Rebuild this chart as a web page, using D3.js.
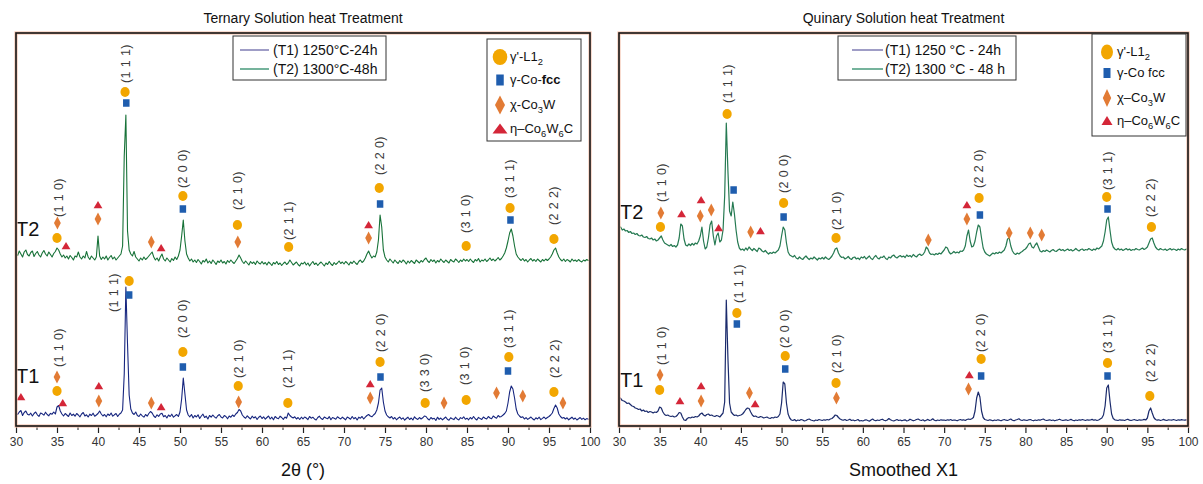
<!DOCTYPE html>
<html>
<head>
<meta charset="utf-8">
<script src="https://cdn.jsdelivr.net/npm/d3@7"></script>
<style>
  body { margin: 0; background: #fff; }
  svg text { font-family: "Liberation Sans", Arial, sans-serif; }
</style>
</head>
<body>
<svg id="fig" width="1203" height="484"></svg>
<script>
// XRD patterns sampled every 0.2 degrees of 2-theta, 30 to 100 (intensity in a.u.)
const twoThetaStart = 30;
const twoThetaStep = 0.2;

const ternaryT1 = [
  130,115,140,155,105,135,150,118,110,128,100,125,140,112,96,130,122,108,138,115,102,126,118,140,120,
  190,205,150,120,100,125,110,95,130,105,118,98,125,110,92,120,135,100,112,90,118,105,128,98,110,
  125,150,120,100,115,92,120,105,130,98,112,125,95,118,130,160,520,1390,820,310,170,130,115,140,105,
  95,120,102,88,115,98,125,145,130,100,85,112,96,120,128,92,105,80,110,95,118,88,102,115,95,
  140,270,480,320,160,110,92,115,80,105,90,112,75,100,118,85,98,70,105,88,110,92,78,102,115,
  90,80,105,95,72,100,88,110,95,120,135,165,150,110,90,78,102,85,70,98,80,92,65,88,100,
  75,92,68,85,100,70,88,62,95,80,72,98,85,66,90,78,130,105,90,80,92,70,85,65,88,
  72,90,80,64,95,78,88,70,60,85,98,75,66,90,80,72,94,62,85,78,68,92,80,70,88,
  75,62,90,80,68,95,72,85,60,88,78,95,70,88,105,115,100,92,110,125,160,230,360,380,240,
  150,110,92,80,95,70,85,62,78,90,68,82,58,75,88,65,80,60,92,74,66,85,70,82,100,
  95,72,60,85,70,78,55,88,66,80,62,75,90,68,58,82,72,64,88,70,60,84,74,92,68,
  78,62,85,70,95,72,60,86,74,66,90,78,70,95,80,72,100,88,78,105,90,96,110,125,150,
  230,340,400,370,280,170,120,100,85,92,70,84,66,78,90,72,60,82,70,88,64,76,90,72,85,
  95,110,130,175,210,180,120,95,78,85,70,82,62,75,88,68,80,60,72,85,66,78,62,74,68,
  72
];

const ternaryT2 = [
  1730,1705,1750,1720,1690,1740,1760,1715,1700,1735,1750,1695,1725,1745,1710,1690,1730,1755,1720,1700,1740,1715,1690,1725,1745,
  1780,1760,1720,1690,1710,1680,1700,1670,1705,1685,1660,1700,1690,1740,1690,1670,1700,1680,1745,1690,1665,1700,1680,1660,1690,
  1900,1700,1665,1690,1670,1700,1660,1685,1705,1670,1690,1660,1680,1700,1720,1800,2700,3110,1950,1760,1720,1700,1745,1690,1670,
  1650,1680,1660,1690,1665,1680,1700,1720,1740,1690,1660,1680,1650,1690,1720,1670,1650,1680,1660,1640,1675,1655,1690,1665,1700,
  1760,1900,2060,1850,1720,1680,1650,1670,1640,1660,1635,1665,1645,1620,1655,1640,1670,1630,1650,1625,1660,1640,1615,1650,1635,
  1660,1630,1645,1620,1655,1635,1660,1640,1625,1650,1675,1710,1680,1645,1625,1650,1630,1610,1645,1625,1640,1615,1650,1630,1620,
  1645,1620,1635,1610,1640,1625,1605,1635,1620,1645,1615,1630,1605,1625,1640,1615,1630,1660,1635,1610,1625,1640,1615,1600,1630,
  1620,1640,1610,1630,1600,1625,1645,1615,1630,1605,1625,1640,1620,1600,1630,1615,1645,1620,1605,1635,1615,1630,1650,1625,1640,
  1620,1645,1630,1610,1640,1625,1650,1630,1615,1645,1660,1635,1650,1680,1720,1750,1710,1680,1700,1690,1740,1860,2110,1990,1760,
  1690,1660,1640,1670,1650,1630,1660,1640,1625,1655,1635,1660,1645,1620,1650,1630,1655,1640,1625,1660,1645,1630,1655,1640,1665,
  1680,1650,1635,1665,1645,1660,1630,1655,1640,1670,1650,1635,1660,1645,1630,1665,1650,1640,1670,1655,1635,1660,1645,1670,1650,
  1665,1645,1670,1650,1635,1665,1650,1675,1640,1660,1650,1670,1645,1660,1680,1655,1670,1650,1665,1685,1660,1675,1700,1730,1780,
  1850,1930,1970,1900,1800,1720,1690,1670,1655,1675,1650,1665,1640,1660,1675,1650,1665,1645,1670,1655,1640,1665,1650,1670,1655,
  1670,1690,1720,1760,1780,1730,1690,1665,1650,1670,1645,1665,1655,1640,1670,1650,1660,1645,1665,1650,1640,1660,1650,1665,1655,
  1660
];

const quinaryT1 = [
  290,275,255,250,240,225,230,215,200,195,180,175,165,170,150,160,145,150,135,145,140,130,140,135,150,
  190,180,140,115,105,110,100,95,100,90,95,110,135,130,90,60,55,75,85,80,90,85,95,90,100,
  120,130,110,100,115,120,105,110,100,95,105,100,90,110,130,240,1260,680,230,140,120,105,110,100,105,
  110,120,140,165,180,175,140,110,95,100,90,85,95,90,80,85,90,80,75,85,80,90,85,95,120,
  230,440,420,230,120,80,60,55,65,50,60,55,65,60,50,55,65,70,60,55,50,60,55,65,60,
  55,62,58,65,60,70,75,90,110,105,85,70,62,58,65,55,60,68,55,60,52,58,65,50,55,
  50,58,62,55,48,60,70,58,52,60,55,62,68,58,52,60,75,62,55,50,58,65,55,60,52,
  58,62,50,55,68,60,52,58,65,70,60,55,62,50,58,66,55,60,72,58,52,60,55,62,58,
  60,55,62,58,65,55,60,58,52,60,65,58,62,55,65,70,65,72,85,150,280,340,290,150,85,
  65,60,55,62,58,52,60,55,62,58,52,60,65,58,55,62,70,58,52,60,65,72,60,55,62,
  58,55,62,65,58,52,60,55,62,58,65,70,60,55,58,62,55,60,52,58,62,68,60,55,58,
  62,55,60,66,58,52,60,55,62,58,65,60,55,62,58,60,66,58,62,55,60,70,80,110,200,
  380,410,250,120,75,62,58,55,62,58,60,55,62,68,58,55,60,65,58,55,62,58,60,66,60,
  80,150,180,130,85,65,58,62,55,60,66,58,55,62,60,58,65,60,55,62,58,64,60,58,62,
  60
];

const quinaryT2 = [
  1980,1990,1960,1970,1950,1955,1935,1945,1925,1930,1915,1925,1905,1900,1910,1890,1885,1895,1875,1870,1880,1860,1870,1850,1860,
  1880,1900,1860,1830,1820,1810,1800,1815,1795,1805,1790,1810,1880,2020,2000,1870,1810,1800,1820,1805,1825,1810,1830,1820,1850,
  1900,1990,1850,1770,1790,1880,2010,2050,1900,1810,1900,1930,1840,1860,1960,2300,3030,2550,2150,2100,2240,2120,1960,1840,1780,
  1760,1770,1755,1780,1760,1790,1770,1755,1775,1760,1745,1780,1770,1750,1740,1755,1735,1720,1735,1725,1740,1730,1745,1760,1800,
  1900,1990,1960,1830,1740,1710,1700,1690,1705,1680,1670,1690,1675,1665,1685,1700,1680,1665,1680,1670,1690,1675,1660,1680,1670,
  1685,1670,1690,1675,1665,1680,1700,1730,1770,1780,1730,1700,1685,1690,1670,1680,1695,1675,1665,1685,1690,1670,1680,1665,1690,
  1680,1695,1670,1685,1700,1675,1665,1690,1705,1680,1670,1690,1685,1700,1675,1665,1690,1680,1700,1710,1690,1680,1695,1705,1690,
  1700,1685,1710,1695,1705,1690,1715,1700,1690,1710,1720,1705,1715,1740,1790,1770,1730,1715,1720,1710,1725,1715,1730,1720,1740,
  1760,1790,1780,1740,1720,1730,1745,1730,1740,1730,1750,1745,1760,1800,1900,1960,1850,1790,1800,1850,1940,2010,1990,1880,1780,
  1740,1720,1710,1700,1715,1730,1720,1735,1725,1740,1730,1745,1760,1800,1870,1880,1800,1750,1725,1715,1730,1720,1735,1745,1760,
  1770,1790,1820,1830,1790,1780,1810,1830,1790,1750,1740,1755,1745,1760,1750,1740,1755,1765,1750,1745,1760,1770,1755,1765,1750,
  1760,1770,1755,1765,1750,1760,1775,1760,1750,1765,1770,1755,1765,1760,1775,1765,1755,1770,1760,1780,1770,1785,1800,1850,1940,
  2060,2090,1960,1840,1790,1770,1760,1775,1760,1770,1755,1765,1775,1760,1770,1755,1765,1760,1775,1765,1760,1770,1780,1765,1775,
  1790,1830,1870,1880,1830,1790,1770,1760,1775,1765,1760,1770,1755,1765,1775,1760,1770,1765,1755,1770,1760,1775,1765,1760,1770,
  1765
];

// Phase identification marks: [2-theta, intensity, phase]
const ternaryMarksT2 = [
  [35.05,2030,"chi"],[35.0,1880,"gp"],[36.1,1800,"eta"],
  [40.0,2210,"eta"],[40.0,2070,"chi"],
  [43.3,3340,"gp"],[43.45,3230,"g"],
  [46.5,1840,"chi"],[47.7,1780,"eta"],
  [50.35,2300,"gp"],[50.35,2170,"g"],
  [57.0,2010,"gp"],[57.05,1840,"chi"],
  [63.25,1790,"gp"],
  [73.0,2010,"eta"],[73.0,1880,"chi"],
  [74.3,2380,"gp"],[74.4,2220,"g"],
  [84.9,1800,"gp"],
  [90.25,2180,"gp"],[90.3,2060,"g"],
  [95.6,1870,"gp"]
];
const ternaryMarksT1 = [
  [30.6,290,"eta"],
  [35.0,490,"chi"],[35.0,350,"gp"],[35.7,230,"eta"],
  [40.1,400,"eta"],[40.1,250,"chi"],
  [43.8,1450,"gp"],[43.8,1310,"g"],
  [46.5,230,"chi"],[47.7,190,"eta"],
  [50.35,740,"gp"],[50.35,590,"g"],
  [57.1,400,"gp"],[57.15,240,"chi"],
  [63.15,230,"gp"],
  [73.2,420,"eta"],[73.2,280,"chi"],
  [74.4,640,"gp"],[74.45,490,"g"],
  [79.9,230,"gp"],[82.2,230,"chi"],[84.9,260,"gp"],[88.6,330,"chi"],
  [90.1,690,"gp"],[90.0,550,"g"],[91.8,300,"chi"],
  [95.6,340,"gp"],[96.7,230,"chi"]
];
const quinaryMarksT2 = [
  [35.15,2130,"chi"],[35.1,1990,"gp"],[37.7,2120,"eta"],
  [40.1,2260,"eta"],[40.0,2100,"chi"],[41.35,2160,"chi"],[42.25,1980,"eta"],
  [43.3,3120,"gp"],[44.1,2360,"g"],
  [46.2,1940,"chi"],[47.4,1950,"eta"],
  [50.25,2230,"gp"],[50.25,2090,"g"],
  [56.7,1880,"gp"],[68.05,1860,"chi"],
  [72.8,2210,"eta"],[72.8,2070,"chi"],
  [74.3,2280,"gp"],[74.4,2110,"g"],
  [78.0,1930,"chi"],[80.6,1930,"chi"],[82.0,1910,"chi"],
  [90.0,2290,"gp"],[90.1,2170,"g"],
  [95.5,1990,"gp"]
];
const quinaryMarksT1 = [
  [35.05,510,"chi"],[35.0,360,"gp"],[37.5,250,"eta"],
  [40.1,400,"eta"],[40.1,250,"chi"],
  [44.5,1130,"gp"],[44.5,1020,"g"],
  [46.05,330,"chi"],[46.75,220,"eta"],
  [50.45,700,"gp"],[50.45,570,"g"],
  [56.7,430,"gp"],[56.75,280,"chi"],
  [73.1,510,"eta"],[73.0,370,"chi"],
  [74.55,670,"gp"],[74.55,500,"g"],
  [90.1,630,"gp"],[90.1,500,"g"],
  [95.3,300,"gp"]
];

// Miller indices: [2-theta, intensity at the start of the label, text]
const ternaryHklT2 = [
  [35.2,2090,"(1 1 0)"],[43.45,3430,"(1 1 1)"],[50.4,2380,"(2 0 0)"],[57.1,2160,"(2 1 0)"],
  [63.3,1860,"(2 1 1)"],[74.4,2510,"(2 2 0)"],[84.85,1930,"(3 1 0)"],[90.2,2280,"(3 1 1)"],[95.65,2010,"(2 2 2)"]
];
const ternaryHklT1 = [
  [35.2,590,"(1 1 0)"],[42.0,1140,"(1 1 1)"],[50.4,880,"(2 0 0)"],[57.2,480,"(2 1 0)"],[63.2,380,"(2 1 1)"],
  [74.55,740,"(2 2 0)"],[79.9,340,"(3 3 0)"],[84.8,410,"(3 1 0)"],[90.1,780,"(3 1 1)"],[95.7,480,"(2 2 2)"]
];
const quinaryHklT2 = [
  [35.3,2240,"(1 1 0)"],[43.45,3230,"(1 1 1)"],[50.3,2330,"(2 0 0)"],[56.8,1960,"(2 1 0)"],
  [74.3,2380,"(2 2 0)"],[90.1,2360,"(3 1 1)"],[95.5,2090,"(2 2 2)"]
];
const quinaryHklT1 = [
  [35.3,610,"(1 1 0)"],[44.8,1230,"(1 1 1)"],[50.45,780,"(2 0 0)"],[56.8,530,"(2 1 0)"],
  [74.55,740,"(2 2 0)"],[90.1,730,"(3 1 1)"],[95.5,440,"(2 2 2)"]
];

const xTicks = [30,35,40,45,50,55,60,65,70,75,80,85,90,95,100];
const xMinorTicks = [32.5,37.5,42.5,47.5,52.5,57.5,62.5,67.5,72.5,77.5,82.5,87.5,92.5,97.5];

const phaseKeys = ["gp","g","chi","eta"];
const ternaryPhaseNames = ["γ'-L1_2","γ-Co-*fcc*","χ-Co_3W","η–Co_6W_6C"];
const quinaryPhaseNames = ["γ'-L1_2","γ-Co fcc","χ–Co_3W","η–Co_6W_6C"];
const ternaryTreatments = ["(T1) 1250°C-24h","(T2) 1300°C-48h"];
const quinaryTreatments = ["(T1) 1250 °C - 24h","(T2) 1300 °C - 48 h"];

// ---- drawing ----
const phaseColor = { gp: "#f2a600", g: "#1f5dae", chi: "#e27b35", eta: "#d42638" };
const plotSymbol = { gp:{rx:4.6,ry:4.9}, g:{w:6.5,h:7.5}, chi:{w:3.4,h:6.6}, eta:{w:4.4,h:7.2} };

const svg = d3.select("#fig");
const yTop = 33, yBottom = 426;
const y = d3.scaleLinear().domain([0, 3930]).range([yBottom, yTop]);

function drawSymbol(g, phase, cx, cy, s) {
  const c = phaseColor[phase];
  if (phase === "gp") {
    g.append("ellipse").attr("cx", cx).attr("cy", cy).attr("rx", s.rx).attr("ry", s.ry).attr("fill", c);
  } else if (phase === "g") {
    g.append("rect").attr("x", cx - s.w / 2).attr("y", cy - s.h / 2)
      .attr("width", s.w).attr("height", s.h).attr("fill", c);
  } else if (phase === "chi") {
    g.append("path").attr("fill", c)
      .attr("d", `M${cx},${cy - s.h}L${cx + s.w},${cy}L${cx},${cy + s.h}L${cx - s.w},${cy}Z`);
  } else {
    g.append("path").attr("fill", c)
      .attr("d", `M${cx},${cy - s.h * 0.55}L${cx + s.w},${cy + s.h * 0.45}L${cx - s.w},${cy + s.h * 0.45}Z`);
  }
}

// text with "_n" subscripts and "*bold*" runs
function richText(t, str, size) {
  const parts = str.split(/(_\d|\*[^*]+\*)/).filter(d => d.length);
  const drop = size * 0.3;
  let lowered = false;
  parts.forEach(p => {
    if (p[0] === "_") {
      t.append("tspan").attr("font-size", size * 0.72).attr("dy", lowered ? 0 : drop).text(p.slice(1));
      lowered = true;
    } else {
      const s = t.append("tspan").attr("dy", lowered ? -drop : 0);
      lowered = false;
      if (p[0] === "*") s.attr("font-weight", "bold").text(p.slice(1, -1));
      else s.text(p);
    }
  });
}

const panels = [
  {
    id: "ternary", x0: 16, x1: 590,
    title: "Ternary Solution heat Treatment", xTitle: "2θ (°)",
    series: [
      { values: ternaryT1, color: "#17267f", width: 1.1 },
      { values: ternaryT2, color: "#177238", width: 1.1 }
    ],
    marks: [ternaryMarksT1, ternaryMarksT2],
    hkl: [ternaryHklT1, ternaryHklT2],
    tags: [{ text: "T1", dx: 0, y: 383 }, { text: "T2", dx: 0, y: 236 }],
    lineLegend: { x: 233, y: 36, w: 153, h: 44, names: ternaryTreatments, lx: 7, lw: 29, tx: 41 },
    phaseLegend: { x: 487, y: 39, w: 94, h: 102, names: ternaryPhaseNames, sx: 13, tx: 23, rows: [18, 41, 66, 90],
      sym: { gp:{rx:7.3,ry:8}, g:{w:7.5,h:11}, chi:{w:5,h:9.5}, eta:{w:7.5,h:10} } }
  },
  {
    id: "quinary", x0: 619, x1: 1188,
    title: "Quinary Solution heat Treatment", xTitle: "Smoothed X1",
    series: [
      { values: quinaryT1, color: "#1b2b6c", width: 1.2 },
      { values: quinaryT2, color: "#267a52", width: 1.2 }
    ],
    marks: [quinaryMarksT1, quinaryMarksT2],
    hkl: [quinaryHklT1, quinaryHklT2],
    tags: [{ text: "T1", dx: 1, y: 387 }, { text: "T2", dx: 1, y: 219 }],
    lineLegend: { x: 838, y: 36, w: 178, h: 44, names: quinaryTreatments, lx: 14, lw: 31, tx: 48 },
    phaseLegend: { x: 1092, y: 34, w: 94, h: 102, names: quinaryPhaseNames, sx: 15, tx: 25, rows: [18, 39, 64, 87],
      sym: { gp:{rx:6,ry:7.5}, g:{w:7,h:10}, chi:{w:4.2,h:9}, eta:{w:5.5,h:9} } }
  }
];

panels.forEach(p => {
  const x = d3.scaleLinear().domain([30, 100]).range([p.x0, p.x1]);
  const g = svg.append("g").attr("class", p.id);

  g.append("clipPath").attr("id", "clip-" + p.id)
    .append("rect").attr("x", p.x0).attr("y", yTop).attr("width", p.x1 - p.x0).attr("height", yBottom - yTop);

  // diffraction patterns
  const line = d3.line()
    .x((d, i) => x(twoThetaStart + i * twoThetaStep))
    .y(d => y(d));
  p.series.forEach(s => {
    g.append("path").attr("d", line(s.values))
      .attr("fill", "none").attr("stroke", s.color).attr("stroke-width", s.width)
      .attr("stroke-linejoin", "round").attr("clip-path", `url(#clip-${p.id})`);
  });

  // phase marks
  p.marks.forEach(list => list.forEach(([t, v, ph]) => drawSymbol(g, ph, x(t), y(v), plotSymbol[ph])));

  // Miller index labels
  p.hkl.forEach(list => list.forEach(([t, v, label]) => {
    g.append("text")
      .attr("transform", `translate(${x(t)},${y(v)}) rotate(-90)`)
      .attr("text-anchor", "start").attr("dominant-baseline", "central")
      .attr("font-size", 12.5).attr("letter-spacing", 0.4).attr("fill", "#3a3a3a").text(label);
  }));

  // T1 / T2 tags
  p.tags.forEach(tg => {
    g.append("text").attr("x", p.x0 + tg.dx).attr("y", tg.y)
      .attr("font-size", 20).attr("fill", "#111").text(tg.text);
  });

  // x axis
  const axis = g.append("g").attr("transform", `translate(0,${yBottom})`)
    .call(d3.axisBottom(x).tickValues(xTicks).tickSize(7).tickSizeOuter(0).tickPadding(4));
  axis.select(".domain").remove();
  axis.selectAll(".tick line").attr("stroke", "#222").attr("stroke-width", 1.2);
  axis.selectAll(".tick text").attr("font-size", 12).attr("fill", "#333")
    .attr("font-family", "Liberation Sans, Arial, sans-serif");
  const minor = g.append("g").attr("transform", `translate(0,${yBottom})`)
    .call(d3.axisBottom(x).tickValues(xMinorTicks).tickSize(4).tickSizeOuter(0).tickFormat(""));
  minor.select(".domain").remove();
  minor.selectAll(".tick line").attr("stroke", "#222").attr("stroke-width", 1);

  // frame
  g.append("rect").attr("x", p.x0).attr("y", yTop).attr("width", p.x1 - p.x0).attr("height", yBottom - yTop)
    .attr("fill", "none").attr("stroke", "#f3c4b0").attr("stroke-width", 3.2);
  g.append("rect").attr("x", p.x0).attr("y", yTop).attr("width", p.x1 - p.x0).attr("height", yBottom - yTop)
    .attr("fill", "none").attr("stroke", "#161616").attr("stroke-width", 1.6);

  // titles
  g.append("text").attr("x", (p.x0 + p.x1) / 2).attr("y", 23).attr("text-anchor", "middle")
    .attr("font-size", 14).attr("fill", "#111").text(p.title);
  g.append("text").attr("x", (p.x0 + p.x1) / 2).attr("y", 476).attr("text-anchor", "middle")
    .attr("font-size", 18).attr("fill", "#111").text(p.xTitle);

  // treatment legend
  const L = p.lineLegend;
  const lg = g.append("g").attr("transform", `translate(${L.x},${L.y})`);
  lg.append("rect").attr("width", L.w).attr("height", L.h).attr("fill", "#fff")
    .attr("stroke", "#333").attr("stroke-width", 1);
  const legendLineColors = ["#6b68a8", "#2b8a66"];
  L.names.forEach((nm, i) => {
    const yy = 14 + i * 19;
    lg.append("line").attr("x1", L.lx).attr("x2", L.lx + L.lw).attr("y1", yy).attr("y2", yy)
      .attr("stroke", legendLineColors[i]).attr("stroke-width", 1.3);
    lg.append("text").attr("x", L.tx - 1).attr("y", yy + 5).attr("font-size", 14).attr("fill", "#111").text(nm);
  });

  // phase legend
  const P = p.phaseLegend;
  const pg = g.append("g").attr("transform", `translate(${P.x},${P.y})`);
  pg.append("rect").attr("width", P.w).attr("height", P.h).attr("fill", "#fff")
    .attr("stroke", "#333").attr("stroke-width", 1);
  phaseKeys.forEach((k, i) => {
    drawSymbol(pg, k, P.sx, P.rows[i], P.sym[k]);
    const t = pg.append("text").attr("x", P.tx).attr("y", P.rows[i] + 4)
      .attr("font-size", 13).attr("fill", "#111");
    richText(t, P.names[i], 13);
  });
});
</script>
</body>
</html>
